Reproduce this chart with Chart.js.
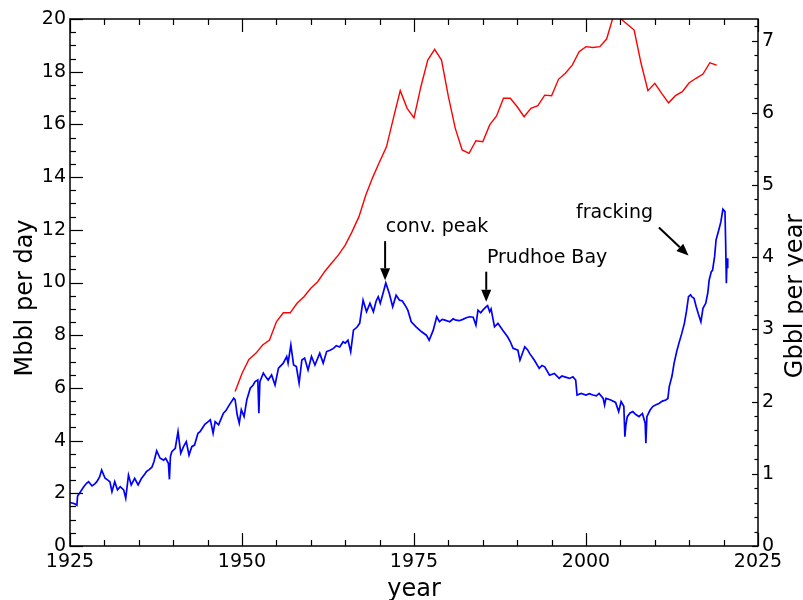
<!DOCTYPE html>
<html><head><meta charset="utf-8">
<script src="https://cdn.jsdelivr.net/npm/chart.js@4"></script>
<style>html,body{margin:0;padding:0;background:#fff}#wrap{width:803px;height:600px;position:relative}</style>
</head><body><div id="wrap"><canvas id="c" width="803" height="600"></canvas></div>
<script>
// US crude oil production (Mbbl per day), monthly-ish samples
const prodYears = [1925.0,1925.3,1925.7,1926.0,1926.1,1926.5,1927.0,1927.4,1927.7,1928.2,1928.6,1928.9,1929.3,1929.6,1930.1,1930.5,1930.8,1931.1,1931.5,1931.9,1932.3,1932.8,1933.1,1933.5,1933.9,1934.4,1934.9,1935.4,1935.8,1936.1,1936.5,1936.9,1937.2,1937.6,1938.1,1938.6,1938.9,1939.3,1939.45,1939.6,1939.8,1940.3,1940.7,1941.1,1941.5,1941.9,1942.3,1942.7,1943.1,1943.6,1943.9,1944.3,1944.6,1945.0,1945.4,1945.8,1946.1,1946.6,1947.0,1947.3,1947.7,1948.0,1948.4,1948.8,1949.0,1949.3,1949.6,1949.9,1950.3,1950.7,1951.2,1951.6,1951.9,1952.3,1952.45,1952.6,1953.1,1953.5,1953.8,1954.3,1954.8,1955.3,1956.0,1956.5,1956.7,1957.1,1957.5,1957.9,1958.3,1958.7,1959.1,1959.6,1960.1,1960.6,1961.3,1961.8,1962.3,1962.8,1963.3,1963.7,1964.2,1964.7,1965.0,1965.4,1965.8,1966.2,1966.7,1967.1,1967.6,1968.1,1968.6,1969.1,1969.5,1969.8,1970.1,1970.5,1970.9,1971.4,1971.9,1972.4,1972.9,1973.3,1973.7,1974.1,1974.6,1975.3,1976.1,1976.8,1977.2,1977.8,1978.3,1978.7,1979.1,1979.5,1980.2,1980.7,1981.1,1981.6,1982.1,1982.6,1983.1,1983.6,1984.0,1984.3,1984.7,1985.0,1985.5,1985.7,1986.0,1986.2,1986.7,1987.2,1987.9,1988.3,1988.6,1989.0,1989.4,1990.1,1990.4,1991.1,1991.5,1991.8,1992.5,1993.2,1993.6,1994.0,1994.7,1995.4,1996.1,1996.5,1996.9,1997.6,1998.1,1998.5,1998.7,1999.3,2000.0,2000.5,2001.0,2001.5,2001.9,2002.5,2002.7,2002.9,2003.6,2004.3,2004.75,2005.1,2005.5,2005.65,2005.8,2006.0,2006.4,2006.8,2007.2,2007.7,2008.2,2008.6,2008.7,2008.85,2009.3,2009.7,2010.1,2010.6,2011.1,2011.6,2011.9,2012.1,2012.5,2012.8,2013.2,2013.5,2013.9,2014.3,2014.6,2014.9,2015.2,2015.4,2015.7,2016.0,2016.3,2016.7,2017.0,2017.4,2017.7,2017.9,2018.2,2018.4,2018.7,2018.9,2019.1,2019.3,2019.6,2019.9,2020.2,2020.3,2020.4,2020.5,2020.6];
const prodValues = [1.65,1.63,1.60,1.55,1.90,2.05,2.25,2.38,2.44,2.28,2.36,2.44,2.62,2.88,2.57,2.50,2.44,2.06,2.44,2.13,2.25,2.13,1.81,2.69,2.32,2.57,2.32,2.57,2.70,2.82,2.90,2.99,3.20,3.61,3.33,3.26,3.33,3.14,2.53,3.40,3.58,3.71,4.34,3.52,3.77,3.96,3.45,3.77,3.83,4.28,4.34,4.50,4.62,4.70,4.79,4.28,4.72,4.60,4.85,5.04,5.15,5.29,5.45,5.61,5.55,4.98,4.66,5.17,4.91,5.55,5.99,6.10,6.24,6.30,5.04,6.24,6.56,6.40,6.30,6.49,6.11,6.75,6.94,7.19,6.94,7.63,6.87,6.81,6.18,7.06,7.13,6.68,7.19,6.87,7.32,6.94,7.38,7.43,7.50,7.60,7.55,7.75,7.70,7.81,7.37,8.19,8.30,8.45,9.33,8.89,9.21,8.89,9.30,9.46,9.21,9.59,9.98,9.59,9.08,9.52,9.33,9.30,9.14,8.95,8.51,8.32,8.13,8.00,7.81,8.19,8.70,8.51,8.60,8.57,8.51,8.62,8.57,8.55,8.60,8.66,8.70,8.68,8.38,8.95,8.85,8.95,9.08,9.12,8.89,9.00,8.32,8.45,8.19,8.05,7.94,7.75,7.50,7.43,7.05,7.56,7.45,7.31,7.05,6.74,6.85,6.80,6.48,6.55,6.36,6.45,6.42,6.36,6.42,6.30,5.73,5.79,5.73,5.78,5.73,5.70,5.79,5.60,5.35,5.60,5.54,5.45,5.10,5.48,5.30,4.15,4.60,4.91,5.05,5.10,5.00,4.91,5.03,4.66,3.90,4.91,5.15,5.29,5.35,5.41,5.50,5.54,5.60,6.05,6.45,6.93,7.40,7.69,8.05,8.45,8.90,9.46,9.53,9.45,9.40,9.10,8.83,8.51,9.02,9.21,9.60,10.09,10.40,10.47,11.00,11.61,11.80,11.99,12.30,12.78,12.69,11.50,9.97,10.92,10.54];

// US petroleum consumption (Mbbl per day), annual
const consYears = [1949,1950,1951,1952,1953,1954,1955,1956,1957,1958,1959,1960,1961,1962,1963,1964,1965,1966,1967,1968,1969,1970,1971,1972,1973,1974,1975,1976,1977,1978,1979,1980,1981,1982,1983,1984,1985,1986,1987,1988,1989,1990,1991,1992,1993,1994,1995,1996,1997,1998,1999,2000,2001,2002,2003,2004,2005,2006,2007,2008,2009,2010,2011,2012,2013,2014,2015,2016,2017,2018,2019];
const consValues = [5.86,6.55,7.08,7.31,7.63,7.82,8.51,8.85,8.85,9.21,9.46,9.78,10.03,10.41,10.73,11.04,11.42,11.93,12.50,13.32,13.99,14.58,15.15,16.23,17.28,16.61,16.25,17.43,18.44,18.85,18.44,17.05,15.85,15.03,14.90,15.38,15.34,15.98,16.32,16.99,16.99,16.67,16.29,16.61,16.71,17.11,17.09,17.71,17.94,18.25,18.76,18.95,18.92,18.95,19.24,20.13,20.02,19.80,19.58,18.32,17.28,17.56,17.18,16.82,17.09,17.24,17.58,17.75,17.91,18.34,18.25];

const xTickLabels = [1925,1950,1975,2000,2025];
const leftTickLabels = [0,2,4,6,8,10,12,14,16,18,20];
const rightTickLabels = [0,1,2,3,4,5,6,7];

const annText = ['conv. peak','Prudhoe Bay','fracking'];
const annTextX = [1970.9,1985.6,1998.55];
const annTextY = [11.92,10.73,12.46];
const annTailX = [1970.8,1985.5,2010.6];
const annTailY = [11.57,10.41,12.09];
const annTipX = [1970.8,1985.5,2014.9];
const annTipY = [10.09,9.27,11.02];

const FONT = "'DejaVu Sans', sans-serif";
const DAYS = 365; // Gbbl/yr = Mbbl/d * 0.365

function line(ctx,x1,y1,x2,y2){ctx.beginPath();ctx.moveTo(x1,y1);ctx.lineTo(x2,y2);ctx.stroke();}

const decor = {
  id:'decor',
  afterDraw(chart){
    const {ctx, chartArea:a, scales} = chart;
    const x = scales.x, y = scales.y, y2 = scales.y2;
    ctx.save();
    ctx.strokeStyle = '#000'; ctx.lineWidth = 1.5;
    ctx.strokeRect(a.left, a.top, a.right-a.left, a.bottom-a.top);
    ctx.lineWidth = 1.2;
    for (let v = xTickLabels[0]; v <= xTickLabels[xTickLabels.length-1]; v += 5) {
      const px = Math.round(x.getPixelForValue(v)) + 0.5;
      const len = xTickLabels.includes(v) ? 13 : 6;
      line(ctx, px, a.bottom, px, a.bottom-len);
      line(ctx, px, a.top, px, a.top+len);
    }
    for (let i = 0; i <= 40; i++) {
      const v = i*0.5;
      const py = Math.round(y.getPixelForValue(v)) + 0.5;
      const len = leftTickLabels.includes(v) ? 13 : 6;
      line(ctx, a.left, py, a.left+len, py);
    }
    for (let i = 0; i <= 36; i++) {
      const v = i*0.2;
      const py = Math.round(y2.getPixelForValue(v)) + 0.5;
      const len = Math.abs(v-Math.round(v)) < 1e-6 ? 6 : 3.5;
      line(ctx, a.right, py, a.right-len, py);
    }
    // axis titles
    ctx.fillStyle = '#000';
    ctx.font = "24px " + FONT;
    ctx.textAlign = 'center'; ctx.textBaseline = 'alphabetic';
    ctx.fillText('year', (a.left+a.right)/2, 596);
    ctx.save(); ctx.translate(32, 298); ctx.rotate(-Math.PI/2); ctx.fillText('Mbbl per day', 0, 0); ctx.restore();
    ctx.save(); ctx.translate(802, 296); ctx.rotate(-Math.PI/2); ctx.fillText('Gbbl per year', 0, 0); ctx.restore();
    // annotations
    ctx.font = "19px " + FONT; ctx.textAlign = 'left';
    ctx.lineWidth = 2;
    for (let i = 0; i < annText.length; i++) {
      ctx.fillText(annText[i], x.getPixelForValue(annTextX[i]), y.getPixelForValue(annTextY[i]));
      const x1 = x.getPixelForValue(annTailX[i]), y1 = y.getPixelForValue(annTailY[i]);
      const x2 = x.getPixelForValue(annTipX[i]), y2p = y.getPixelForValue(annTipY[i]);
      const ang = Math.atan2(y2p-y1, x2-x1);
      const hl = 12, hw = 5;
      const bx = x2 - hl*Math.cos(ang), by = y2p - hl*Math.sin(ang);
      line(ctx, x1, y1, bx, by);
      ctx.beginPath();
      ctx.moveTo(x2, y2p);
      ctx.lineTo(bx + hw*Math.sin(ang), by - hw*Math.cos(ang));
      ctx.lineTo(bx - hw*Math.sin(ang), by + hw*Math.cos(ang));
      ctx.closePath(); ctx.fill();
    }
    ctx.restore();
  }
};

const prodData = prodYears.map((t,i)=>({x:t, y:prodValues[i]}));
const consData = consYears.map((t,i)=>({x:t, y:consValues[i]}));

new Chart(document.getElementById('c'), {
  type:'line',
  data:{datasets:[
    {data:consData, borderColor:'#ff0000', borderWidth:1.4, pointRadius:0, tension:0, yAxisID:'y'},
    {data:prodData, borderColor:'#0000ff', borderWidth:1.7, pointRadius:0, tension:0, yAxisID:'y'}
  ]},
  options:{
    responsive:false, animation:false, devicePixelRatio:1,
    layout:{padding:{top:19,left:0,right:0,bottom:0}},
    plugins:{legend:{display:false}, tooltip:{enabled:false}},
    scales:{
      x:{type:'linear', min:1925, max:2025,
        grid:{display:false, drawTicks:false}, border:{display:false},
        ticks:{stepSize:25, padding:5, color:'#000', font:{family:FONT,size:19}, callback:v=>String(v), maxRotation:0, includeBounds:false},
        afterFit:s=>{s.height = 54;}},
      y:{type:'linear', position:'left', min:0, max:20,
        grid:{display:false, drawTicks:false}, border:{display:false},
        ticks:{stepSize:2, padding:4, color:'#000', font:{family:FONT,size:19}, includeBounds:false},
        afterFit:s=>{s.width = 70;}},
      y2:{type:'linear', position:'right', min:0, max:20*DAYS/1000,
        grid:{display:false, drawTicks:false}, border:{display:false},
        ticks:{stepSize:1, padding:4, color:'#000', font:{family:FONT,size:19}, includeBounds:false},
        afterFit:s=>{s.width = 45;}}
    }
  },
  plugins:[decor]
});
</script></body></html>
